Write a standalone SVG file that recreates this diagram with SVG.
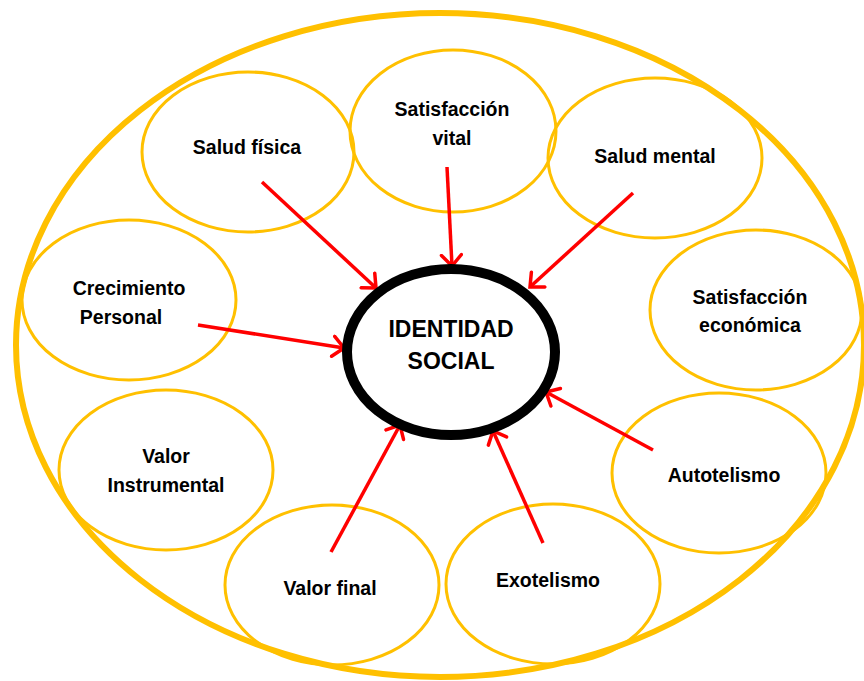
<svg xmlns="http://www.w3.org/2000/svg" width="864" height="681" viewBox="0 0 864 681">
<style>
.bg{fill:#ffffff}
.outer{fill:none;stroke:#FFC000;stroke-width:6}
.node{fill:none;stroke:#FFC000;stroke-width:3}
.center{fill:#ffffff;stroke:#000000;stroke-width:10}
.lbl{font-family:"Liberation Sans",Arial,sans-serif;font-weight:bold;font-size:19.5px;fill:#000000;text-anchor:middle}
.big{font-family:"Liberation Sans",Arial,sans-serif;font-weight:bold;font-size:23px;fill:#000000;text-anchor:middle}
.arrow{fill:none;stroke:#FF0000;stroke-width:3.5;marker-end:url(#ah)}
</style>
<defs>
<marker id="ah" markerUnits="userSpaceOnUse" markerWidth="20" markerHeight="24" refX="13" refY="12" orient="auto" viewBox="0 0 20 24">
<path d="M2,2 L13,12 L2,22" fill="none" stroke="#FF0000" stroke-width="3.5" stroke-linecap="round" stroke-linejoin="miter"/>
</marker>
</defs>
<rect class="bg" x="0" y="0" width="864" height="681"/>
<g id="outer-frame"><ellipse class="outer" cx="440" cy="345" rx="424" ry="332"/></g>
<g id="salud-fisica"><ellipse class="node" cx="248" cy="152" rx="106" ry="80"/><text class="lbl" x="247" y="154">Salud física</text></g>
<g id="satisfaccion-vital"><ellipse class="node" cx="453" cy="131" rx="103" ry="81"/><text class="lbl" x="452" y="116">Satisfacción</text><text class="lbl" x="452" y="145">vital</text></g>
<g id="salud-mental"><ellipse class="node" cx="655" cy="158" rx="107" ry="80"/><text class="lbl" x="655" y="163">Salud mental</text></g>
<g id="crecimiento-personal"><ellipse class="node" cx="129" cy="300" rx="107" ry="80"/><text class="lbl" x="129" y="295">Crecimiento</text><text class="lbl" x="121" y="324">Personal</text></g>
<g id="satisfaccion-economica"><ellipse class="node" cx="756" cy="310" rx="106" ry="80"/><text class="lbl" x="750" y="304">Satisfacción</text><text class="lbl" x="750" y="332">económica</text></g>
<g id="valor-instrumental"><ellipse class="node" cx="166" cy="470" rx="107" ry="80"/><text class="lbl" x="166" y="463">Valor</text><text class="lbl" x="166" y="492">Instrumental</text></g>
<g id="autotelismo"><ellipse class="node" cx="719" cy="473" rx="107" ry="80"/><text class="lbl" x="724" y="482">Autotelismo</text></g>
<g id="valor-final"><ellipse class="node" cx="332" cy="585" rx="107" ry="80"/><text class="lbl" x="330" y="595">Valor final</text></g>
<g id="exotelismo"><ellipse class="node" cx="553" cy="584" rx="107" ry="80"/><text class="lbl" x="548" y="587">Exotelismo</text></g>
<g id="connectors">
<line class="arrow" x1="262" y1="182" x2="376" y2="288"/>
<line class="arrow" x1="447" y1="167" x2="452" y2="266"/>
<line class="arrow" x1="633" y1="193" x2="530" y2="287"/>
<line class="arrow" x1="198" y1="325" x2="344" y2="348"/>
<line class="arrow" x1="331" y1="552" x2="400" y2="425"/>
<line class="arrow" x1="543" y1="543" x2="493" y2="431"/>
<line class="arrow" x1="653" y1="450" x2="546" y2="392"/>
</g>
<g id="identidad-social"><ellipse class="center" cx="451" cy="352" rx="104" ry="83"/><text class="big" x="451" y="337">IDENTIDAD</text><text class="big" x="451" y="369">SOCIAL</text></g>
</svg>
